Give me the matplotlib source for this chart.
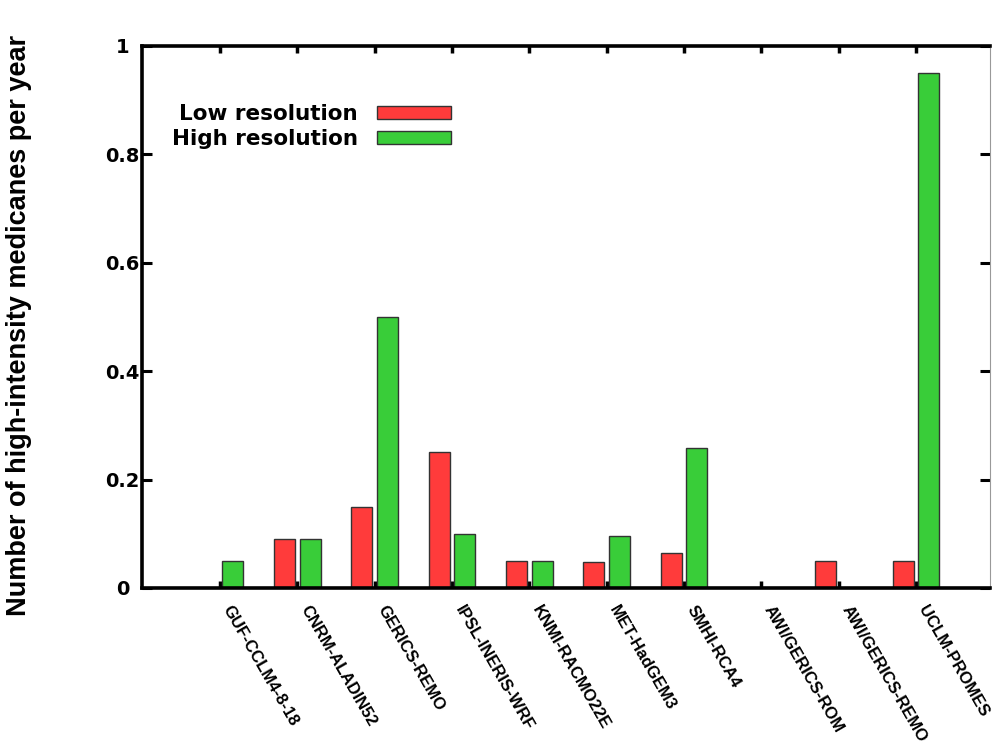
import numpy as np
import matplotlib
matplotlib.use("Agg")
import matplotlib.pyplot as plt

# Data
models = ["GUF-CCLM4-8-18", "CNRM-ALADIN52", "GERICS-REMO", "IPSL-INERIS-WRF",
          "KNMI-RACMO22E", "MET-HadGEM3", "SMHI-RCA4", "AWI/GERICS-ROM",
          "AWI/GERICS-REMO", "UCLM-PROMES"]
low_res = [0.0, 0.09, 0.15, 0.25, 0.05, 0.047, 0.065, 0.0, 0.05, 0.05]
high_res = [0.05, 0.09, 0.5, 0.1, 0.05, 0.095, 0.258, 0.0, 0.0, 0.95]

red = "#ff3b3b"
green = "#39cd39"

fig = plt.figure(figsize=(9.92, 7.49), dpi=100)
ax = fig.add_axes([0.1431, 0.215, 0.855, 0.7236])

x = np.arange(len(models))
w = 0.27
gap = 0.03
ax.bar(x - gap, low_res, width=-w, align="edge", color=red,
       edgecolor="#333333", linewidth=1, label="Low resolution", zorder=2)
ax.bar(x + gap, high_res, width=w, align="edge", color=green,
       edgecolor="#333333", linewidth=1, label="High resolution", zorder=2)

ax.set_xlim(-1.01, 9.96)
ax.set_ylim(0, 1)
ax.set_yticks([0, 0.2, 0.4, 0.6, 0.8, 1.0])
ax.set_yticklabels(["0", "0.2", "0.4", "0.6", "0.8", "1"],
                   fontsize=14, fontweight="bold", family="DejaVu Sans")
for lab in ax.get_yticklabels():
    lab.set_horizontalalignment("center")
ax.tick_params(axis="y", direction="in", length=7, width=2.2, pad=14,
               right=True)

ax.set_xticks(x)
ax.set_xticklabels(models, rotation=-60, ha="left", va="bottom",
                   rotation_mode="anchor", fontsize=12, fontweight="bold",
                   family="Liberation Sans")
ax.tick_params(axis="x", direction="in", length=5, width=2.5, pad=16,
               top=True)

for s in ["left", "bottom", "top"]:
    ax.spines[s].set_linewidth(2.6)
    ax.spines[s].set_color("black")
ax.spines["right"].set_linewidth(0.8)
ax.spines["right"].set_color("#999999")

ax.set_ylabel("Number of high-intensity medicanes per year", fontsize=19.5,
              fontweight="bold", family="Liberation Sans")
ax.yaxis.set_label_coords(-0.13, 0.485)

leg = ax.legend(loc="upper left", bbox_to_anchor=(0.035, 0.893), frameon=False,
                markerfirst=False, handlelength=3.44, handleheight=0.56,
                handletextpad=0.88, labelspacing=0.25, borderaxespad=0,
                borderpad=0,
                prop={"family": "DejaVu Sans", "weight": "bold", "size": 15.5})
for t in leg.get_texts():
    t.set_ha("right")

fig.savefig("out.png", dpi=100)
